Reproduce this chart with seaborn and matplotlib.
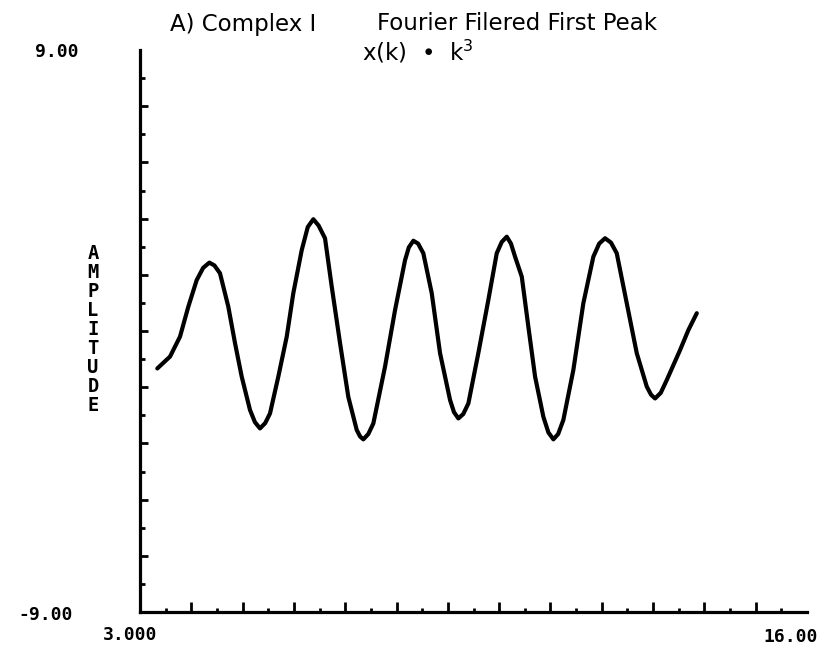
import numpy as np
import pandas as pd
import matplotlib
matplotlib.use("Agg")
import matplotlib.pyplot as plt
from matplotlib.ticker import FixedLocator, NullFormatter
import seaborn as sns

# ---- data ----
k_values = [3.337, 3.585, 3.780, 3.942, 4.105, 4.23, 4.351, 4.45, 4.559, 4.721,
            4.852, 4.982, 5.144, 5.24, 5.339, 5.44, 5.534, 5.696, 5.860, 5.988,
            6.152, 6.27, 6.378, 6.48, 6.606, 6.737, 6.899, 7.060, 7.224, 7.29,
            7.353, 7.45, 7.548, 7.776, 7.971, 8.166, 8.24, 8.328, 8.42, 8.522,
            8.686, 8.848, 9.043, 9.12, 9.205, 9.30, 9.400, 9.594, 9.789, 9.953,
            10.05, 10.148, 10.23, 10.310, 10.441, 10.569, 10.700, 10.862, 10.96, 11.057,
            11.15, 11.251, 11.446, 11.641, 11.836, 11.95, 12.064, 12.18, 12.292, 12.487,
            12.682, 12.877, 12.96, 13.039, 13.15, 13.267, 13.526, 13.688, 13.852]
amplitude = [-1.20, -0.82, -0.18, 0.78, 1.63, 2.02, 2.19, 2.10, 1.85, 0.78,
             -0.39, -1.46, -2.53, -2.92, -3.12, -2.95, -2.64, -1.46, -0.18, 1.21,
             2.59, 3.33, 3.58, 3.38, 2.97, 1.42, -0.39, -2.11, -3.17, -3.38,
             -3.47, -3.30, -2.96, -1.14, 0.67, 2.27, 2.68, 2.89, 2.80, 2.49,
             1.21, -0.71, -2.21, -2.60, -2.80, -2.66, -2.32, -0.71, 0.99, 2.49,
             2.85, 3.02, 2.80, 2.38, 1.74, 0.14, -1.46, -2.75, -3.25, -3.47,
             -3.30, -2.85, -1.25, 0.89, 2.38, 2.80, 2.97, 2.83, 2.49, 0.89,
             -0.71, -1.78, -2.04, -2.16, -1.98, -1.57, -0.61, 0.03, 0.57]

x_min, x_max = 3.0, 16.0
y_min, y_max = -9.0, 9.0
x_end_labels = ["3.000", "16.00"]
y_end_labels = ["9.00", "-9.00"]
title_left = "A) Complex I"
title_right = "Fourier Filered First Peak"
subtitle = "x(k)  \u2022  k$^3$"
ylabel = "AMPLITUDE"

df = pd.DataFrame({"k": k_values, "amp": amplitude})

sns.set_style("white")
plt.rcParams["font.family"] = ["DejaVu Sans"]
plt.rcParams["mathtext.default"] = "regular"

fig = plt.figure(figsize=(8.26, 6.49), dpi=100)
ax = fig.add_axes([140/826, 1-612/649, (807-140)/826, (612-50)/649])

sns.lineplot(data=df, x="k", y="amp", ax=ax, color="black", linewidth=3.0,
             sort=False, estimator=None)
ax.lines[0].set_solid_joinstyle("round")
ax.lines[0].set_solid_capstyle("round")

ax.set_xlim(x_min, x_max)
ax.set_ylim(y_min, y_max)
ax.set_xlabel("")
ax.set_ylabel("")

for s in ["top", "right"]:
    ax.spines[s].set_visible(False)
for s in ["left", "bottom"]:
    ax.spines[s].set_linewidth(2.3)
    ax.spines[s].set_color("black")

ax.xaxis.set_major_locator(FixedLocator(np.arange(4, 16, 1.0)))
ax.xaxis.set_minor_locator(FixedLocator(np.arange(3.5, 16, 1.0)))
ax.yaxis.set_major_locator(FixedLocator(np.arange(-7.2, 8.0, 1.8)))
ax.yaxis.set_minor_locator(FixedLocator(np.arange(-8.1, 8.5, 1.8)))
ax.xaxis.set_major_formatter(NullFormatter())
ax.yaxis.set_major_formatter(NullFormatter())
ax.tick_params(which="both", bottom=True, left=True, top=False, right=False)
ax.tick_params(axis="x", which="major", direction="in", length=7, width=2, color="black")
ax.tick_params(axis="x", which="minor", direction="in", length=3, width=2, color="black")
ax.tick_params(axis="y", which="major", direction="in", length=6, width=2, color="black")
ax.tick_params(axis="y", which="minor", direction="in", length=3.5, width=2, color="black")

mono = dict(family="DejaVu Sans Mono", fontweight="bold", fontsize=13, color="black")
fig.text(78/826, 1-52/649, y_end_labels[0], ha="right", va="center", **mono)
fig.text(73/826, 1-615/649, y_end_labels[1], ha="right", va="center", **mono)
fig.text(157/826, 1-635/649, x_end_labels[0], ha="right", va="center", **mono)
fig.text(818/826, 1-637/649, x_end_labels[1], ha="right", va="center", **mono)

fig.text(170/826, 1-24/649, title_left, ha="left", va="center", fontsize=16.5, color="black")
fig.text(377/826, 1-24/649, title_right, ha="left", va="center", fontsize=16.5, color="black")
fig.text(362/826, 1-52/649, subtitle, ha="left", va="center", fontsize=16.5, color="black")

fig.text(93/826, 1-329.5/649, "\n".join(ylabel), ha="center", va="center",
         fontsize=13.5, fontweight="bold", linespacing=1.0, color="black",
         family="DejaVu Sans Mono")

fig.savefig("out.png", dpi=100)
